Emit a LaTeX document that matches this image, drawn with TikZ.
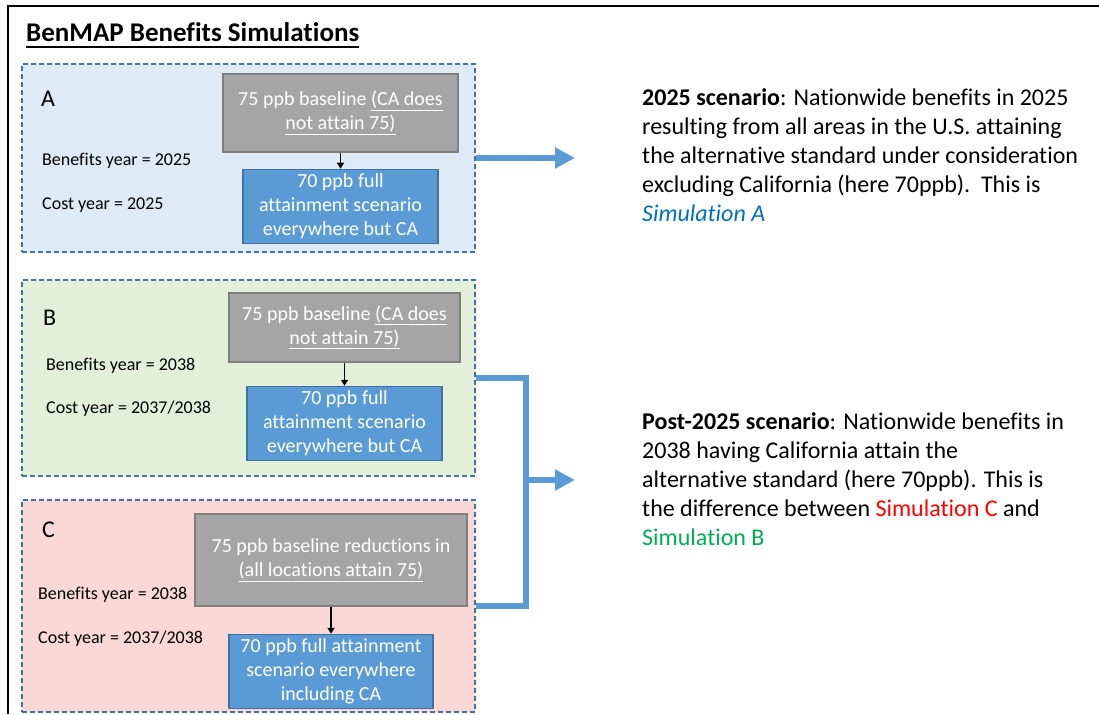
\documentclass[tikz,border=0pt]{standalone}
\usepackage{fontspec}
\setmainfont{Carlito}[Ligatures={NoCommon, NoRequired, NoContextual}, Contextuals=NoAlternate]
\usetikzlibrary{positioning, arrows.meta}
\definecolor{PanelEdge}{RGB}{65, 113, 156}
\definecolor{PanelBlue}{RGB}{222, 235, 247}
\definecolor{PanelGreen}{RGB}{226, 240, 217}
\definecolor{PanelRed}{RGB}{249, 216, 214}
\definecolor{BaseGray}{RGB}{165, 165, 165}
\definecolor{BaseGrayEdge}{RGB}{127, 127, 127}
\definecolor{ScenBlue}{RGB}{91, 155, 213}
\definecolor{ScenEdge}{RGB}{65, 113, 156}
\definecolor{SimBlue}{RGB}{0, 112, 192}
\definecolor{SimRed}{RGB}{255, 0, 0}
\definecolor{SimGreen}{RGB}{0, 176, 80}

\begin{document}
\begin{tikzpicture}[x=1pt, y=-1pt,
    panel/.style={draw=PanelEdge, line width=1.3pt, dash pattern=on 5pt off 3pt, inner sep=0pt},
    basebox/.style={draw=BaseGrayEdge, line width=1.5pt, fill=BaseGray, text=white, align=center, inner sep=0pt, font=\fontsize{20}{24}\selectfont},
    scenbox/.style={draw=ScenEdge, line width=1.2pt, fill=ScenBlue, text=white, align=center, inner sep=0pt, minimum height=74pt, font=\fontsize{20}{24}\selectfont},
    yearlabel/.style={anchor=base west, inner sep=0pt, font=\fontsize{18}{22}\selectfont},
    letter/.style={anchor=base west, inner sep=0pt, font=\fontsize{24}{29}\selectfont},
    desc/.style={anchor=north west, align=left, inner sep=0pt, font=\fontsize{24}{29}\selectfont},
    flowarrow/.style={-{Triangle[length=6pt, width=7pt]}, line width=1.3pt},
    bigarrow/.style={ScenBlue, line width=6pt, line join=miter},
  ]
    \useasboundingbox (0, 0) rectangle (1099, 714);

    % Frame and title
    \draw[line width=2.5pt] (8, 714) -- (8, 6) -- (1099, 6);
    \node[anchor=base west, inner sep=0pt, font=\fontsize{27}{32}\selectfont\bfseries] (title) at (26, 42) {BenMAP Benefits Simulations};
    \draw[line width=1.8pt] ([yshift=-5pt]title.base west) -- ([yshift=-5pt]title.base east);

    % Simulation A
    \node[panel, fill=PanelBlue, minimum width=453pt, minimum height=188pt] (panelA) at (248.5, 158) {};
    \node[basebox, minimum width=235pt, minimum height=78pt] (grayA) at (340.5, 113) {75 ppb baseline \underline{(CA does}\\\underline{not attain 75)}};
    \node[scenbox, minimum width=195pt, below=16pt of grayA] (blueA) {70 ppb full\\attainment scenario\\everywhere but CA};
    \draw[flowarrow] (grayA) -- (blueA);
    \node[letter] (letA) at (41, 107) {A};
    \node[yearlabel] (benA) at (42, 166) {Benefits year = 2025};
    \node[yearlabel] (costA) at (42, 209) {Cost year = 2025};

    % Simulation B
    \node[panel, fill=PanelGreen, minimum width=453pt, minimum height=196pt] (panelB) at (248.5, 378) {};
    \node[basebox, minimum width=231pt, minimum height=69pt] (grayB) at (344.5, 327.5) {75 ppb baseline \underline{(CA does}\\\underline{not attain 75)}};
    \node[scenbox, minimum width=195pt, below=23pt of grayB] (blueB) {70 ppb full\\attainment scenario\\everywhere but CA};
    \draw[flowarrow] (grayB) -- (blueB);
    \node[letter] (letB) at (43, 325) {B};
    \node[yearlabel] (benB) at (46, 370) {Benefits year = 2038};
    \node[yearlabel] (costB) at (46, 413) {Cost year = 2037/2038};

    % Simulation C
    \node[panel, fill=PanelRed, minimum width=453pt, minimum height=212pt] (panelC) at (248.5, 606) {};
    \node[basebox, minimum width=272pt, minimum height=92pt] (grayC) at (331, 560) {75 ppb baseline reductions in\\\underline{(all locations attain 75)}};
    \node[scenbox, minimum width=204pt, below=27pt of grayC] (blueC) {70 ppb full attainment\\scenario everywhere\\including CA};
    \draw[flowarrow, line width=2pt] (grayC) -- (blueC);
    \node[letter] (letC) at (42, 537) {C};
    \node[yearlabel] (benC) at (38, 599) {Benefits year = 2038};
    \node[yearlabel] (costC) at (38, 643) {Cost year = 2037/2038};

    % Connectors to the scenarios
    \coordinate (tipA) at (575, 158);
    \coordinate (joinB) at (525, 480);
    \coordinate (tipB) at (575, 480);
    \draw[bigarrow, -{Triangle[length=20pt, width=20pt]}] (panelA.east) -- (tipA);
    \draw[bigarrow] (panelB.east) -- ++(50, 0) |- (panelC.east);
    \draw[bigarrow, -{Triangle[length=20pt, width=20pt]}] (joinB) -- (tipB);

    % Scenario descriptions
    \node[desc] (descA) at (642, 84.7) {\strut\textbf{2025 scenario}: Nationwide benefits in 2025\\resulting from all areas in the U.S. attaining\\the alternative standard under consideration\\excluding California (here 70ppb).\ \ This is\\\textcolor{SimBlue}{\textit{Simulation A}}};
    \node[desc] (descB) at (642, 408.7) {\strut\textbf{Post-2025 scenario}: Nationwide benefits in\\2038 having California attain the\\alternative standard (here 70ppb). This is\\the difference between \textcolor{SimRed}{Simulation C} and\\\textcolor{SimGreen}{Simulation B}};
  \end{tikzpicture}
\end{document}
